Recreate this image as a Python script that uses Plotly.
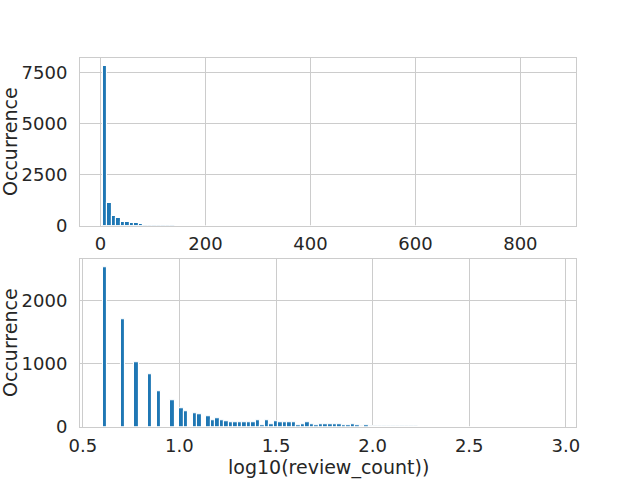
import numpy as np
import plotly.graph_objects as go
from plotly.subplots import make_subplots

# ---- data ----
review_min = 4
review_max = 863
n_bins = 100

# counts per bin of review_count (100 equal bins from review_min to review_max)
top_counts = [7832, 1103, 475, 376, 178, 178, 112, 112, 79, 46,
              46, 46, 20, 18, 15, 12, 10, 8, 7, 6,
              5, 4, 4, 3, 3, 2, 2, 2, 1, 1]
top_last_bin_count = 1

# counts per bin of log10(review_count) (100 equal bins)
bottom_counts = [2522, 0, 0, 0, 1697, 0, 0, 1019, 0, 0,
                 829, 0, 559, 0, 0, 416, 0, 289, 241, 0,
                 214, 194, 0, 162, 114, 130, 114, 98, 82, 82,
                 67, 67, 67, 67, 114, 35, 114, 51, 98, 67,
                 67, 67, 67, 35, 51, 67, 51, 35, 51, 51,
                 51, 51, 51, 35, 35, 51, 35, 19, 35, 19,
                 19, 19, 19, 8, 19, 19, 19, 6, 5, 4,
                 3, 2, 2, 1, 1]
bottom_last_bin_count = 1

x_ticks_top = [0, 200, 400, 600, 800]
y_ticks_top = [0, 2500, 5000, 7500]
x_ticks_bottom = [0.5, 1.0, 1.5, 2.0, 2.5, 3.0]
y_ticks_bottom = [0, 1000, 2000]

y_label = "Occurrence"
x_label_bottom = "log10(review_count))"

# ---- build bins ----
def full_counts(head, last):
    c = np.zeros(n_bins)
    c[:len(head)] = head
    c[-1] += last
    return c

top_edges = np.linspace(review_min, review_max, n_bins + 1)
bot_edges = np.linspace(np.log10(review_min), np.log10(review_max), n_bins + 1)
top_c = full_counts(top_counts, top_last_bin_count)
bot_c = full_counts(bottom_counts, bottom_last_bin_count)

def centers(e):
    return (e[:-1] + e[1:]) / 2

BLUE = "#1f77b4"
GRID = "#cccccc"
TXT = "#262626"
FS = 18
FS_TITLE = 19

fig = make_subplots(rows=2, cols=1, vertical_spacing=0.0909)

fig.add_trace(go.Bar(x=centers(top_edges), y=top_c, width=np.diff(top_edges),
                     marker=dict(color=BLUE, line=dict(color="white", width=1.1)),
                     showlegend=False, hoverinfo="skip"), row=1, col=1)
fig.add_trace(go.Bar(x=centers(bot_edges), y=bot_c, width=np.diff(bot_edges),
                     marker=dict(color=BLUE, line=dict(color="white", width=1.1)),
                     showlegend=False, hoverinfo="skip"), row=2, col=1)

def span(lo, hi):
    s = hi - lo
    return [lo - 0.05 * s, hi + 0.05 * s]

axis_common = dict(showgrid=True, gridcolor=GRID, gridwidth=1, zeroline=False,
                   showline=True, linecolor=GRID, linewidth=1, mirror=True,
                   ticks="outside", tickcolor="rgba(0,0,0,0)", automargin=False,
                   tickfont=dict(size=FS, color=TXT))

fig.update_xaxes(ticklen=2, **axis_common)
fig.update_yaxes(ticklen=8, **axis_common)

fig.update_xaxes(range=span(review_min, review_max), tickvals=x_ticks_top, row=1, col=1)
fig.update_yaxes(range=[0, top_c.max() * 1.05], tickvals=y_ticks_top, row=1, col=1)
fig.update_xaxes(range=span(bot_edges[0], bot_edges[-1]), tickvals=x_ticks_bottom,
                 tickformat=".1f", row=2, col=1)
fig.update_yaxes(range=[0, bot_c.max() * 1.05], tickvals=y_ticks_bottom, row=2, col=1)

W, H = 640, 480
ML, MR, MT, MB = 80, 64, 58, 53
fig.update_layout(width=W, height=H,
                  margin=dict(l=ML, r=MR, t=MT, b=MB),
                  paper_bgcolor="white", plot_bgcolor="white",
                  font=dict(family="DejaVu Sans", color=TXT),
                  bargap=0)

PW, PH = W - ML - MR, H - MT - MB

def px_x(p):
    return (p - ML) / PW

def px_y(p):
    return (H - MB - p) / PH

for yc in (142, 343):
    fig.add_annotation(text=y_label, xref="paper", yref="paper",
                       x=px_x(10), y=px_y(yc), showarrow=False, textangle=-90,
                       font=dict(size=FS_TITLE, color=TXT),
                       xanchor="center", yanchor="middle")
fig.add_annotation(text=x_label_bottom, xref="paper", yref="paper",
                   x=0.5, y=px_y(467), showarrow=False,
                   font=dict(size=FS_TITLE, color=TXT),
                   xanchor="center", yanchor="middle")

fig.write_html("out.html", config={"displayModeBar": False},
               post_script="document.body.style.margin='0';document.body.style.overflow='hidden';")
